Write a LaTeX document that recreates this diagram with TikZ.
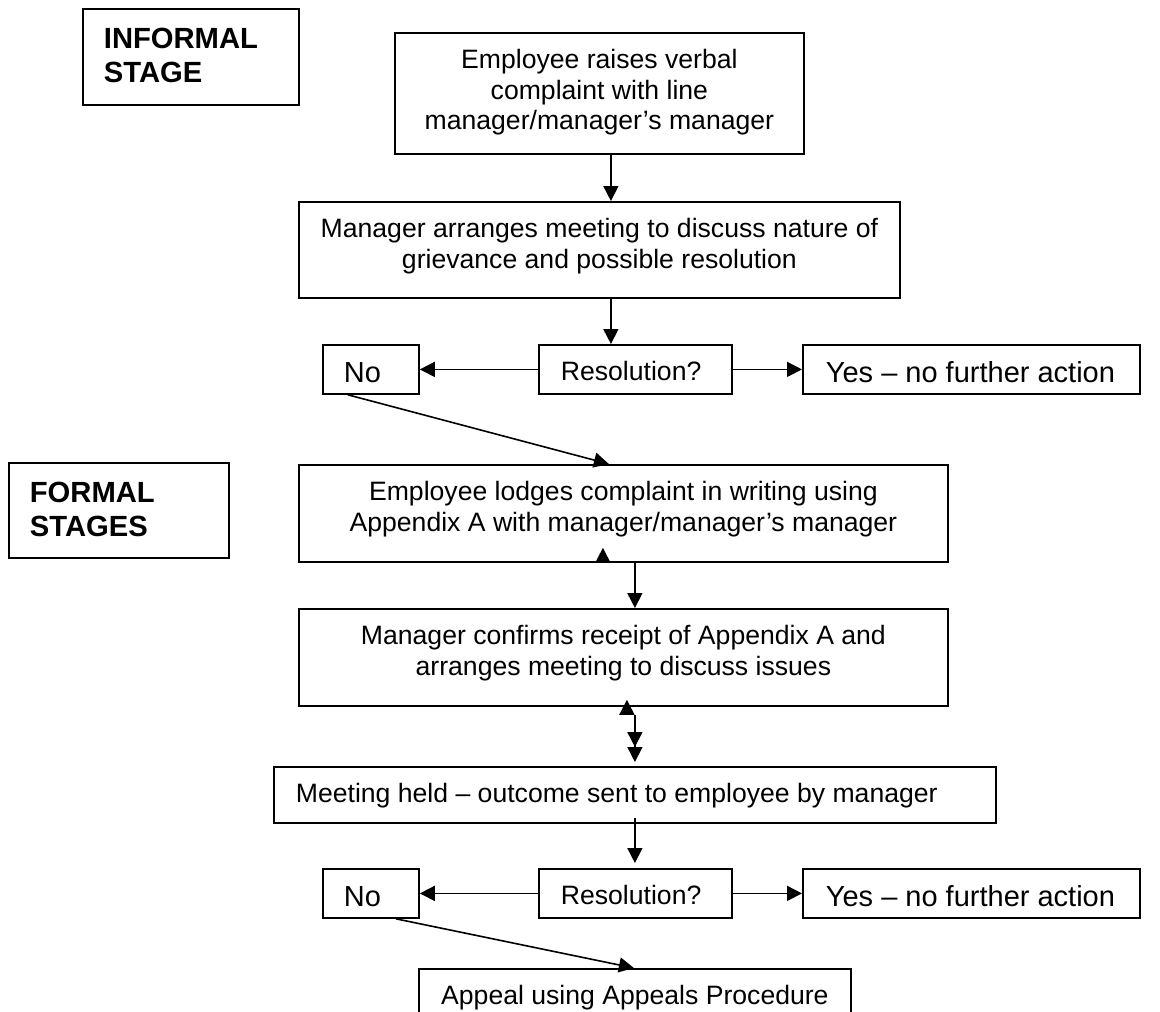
\documentclass[tikz,border=0pt]{standalone}
\usepackage{fontspec}
\setmainfont{Liberation Sans}
\usetikzlibrary{arrows.meta}
\newcommand{\ctext}[3]{\parbox[c][#2][t]{#1}{\centering\rule{0pt}{36pt}#3\par}}
\newcommand{\ltext}[5]{\parbox[c][#2][t]{#1}{\raggedright\rule{0pt}{#4}\hspace*{#3}#5\par}}
\begin{document}
\begin{tikzpicture}[x=1pt,y=-1pt,
  box/.style={draw, line width=1.8pt, inner sep=0pt, anchor=north west},
  body/.style={font=\fontsize{26.6}{30.5}\selectfont},
  big/.style={font=\fontsize{29}{34}\selectfont},
  stagefont/.style={font=\fontsize{29.2}{34}\selectfont\bfseries},
  arr/.style={line width=1.6pt, -{Triangle[length=15pt,width=15pt]}},
  darr/.style={line width=1.6pt, -{Triangle[length=15pt,width=15pt]Triangle[length=15pt,width=15pt]}},
]
\useasboundingbox (0,0) rectangle (1160,1012);
\clip (0,0) rectangle (1160,1012);
\fill[white] (0,0) rectangle (1160,1012);

% stage labels
\node[box, stagefont] (inf) at (82,8) {\ltext{216pt}{96pt}{21pt}{40pt}{INFORMAL\\\hspace*{21pt}STAGE}};
\node[box, stagefont] (form) at (8,462) {\ltext{220pt}{95pt}{21pt}{40pt}{FORMAL\\\hspace*{21pt}STAGES}};

% informal stage
\node[box, body] (b1) at (394,32) {\ctext{409pt}{121pt}{Employee raises verbal\\complaint with line\\manager/manager’s manager}};
\node[box, body] (b2) at (298,201) {\ctext{601pt}{96pt}{Manager arranges meeting to discuss nature of\\grievance and possible resolution}};
\node[box, big] (no1) at (322,344) {\ltext{96pt}{49pt}{21pt}{38pt}{No}};
\node[box, body] (res1) at (538,344) {\ltext{193pt}{49pt}{22pt}{36pt}{Resolution?}};
\node[box, big] (yes1) at (802,344) {\ltext{337pt}{49pt}{23pt}{38pt}{Yes -- no further action}};

% formal stages
\node[box, body] (b3) at (298,464) {\ctext{649pt}{97pt}{Employee lodges complaint in writing using\\Appendix A with manager/manager’s manager}};
\node[box, body] (b4) at (298,608) {\ctext{649pt}{97pt}{Manager confirms receipt of Appendix A and\\arranges meeting to discuss issues}};
\node[box, body] (b5) at (273,766) {\ltext{722pt}{56pt}{22pt}{36pt}{Meeting held -- outcome sent to employee by manager}};
\node[box, big] (no2) at (322,868) {\ltext{96pt}{49pt}{21pt}{38pt}{No}};
\node[box, body] (res2) at (538,868) {\ltext{193pt}{49pt}{22pt}{36pt}{Resolution?}};
\node[box, big] (yes2) at (802,868) {\ltext{337pt}{49pt}{23pt}{38pt}{Yes -- no further action}};
\node[box, body] (app) at (418,968) {\ctext{432pt}{60pt}{Appeal using Appeals Procedure}};

% connectors
\draw[arr] ([xshift=11.5pt]b1.south) -- ([xshift=11.5pt]b2.north);
\draw[arr] ([xshift=11.5pt]b2.south) -- ([xshift=-24.5pt]res1.north);
\draw[arr] (res1.west) -- (no1.east);
\draw[arr] (res1.east) -- (yes1.west);
\draw[arr] ([xshift=-23pt]no1.south) -- ([xshift=-14.5pt]b3.north);

\draw[arr] ([xshift=-20.5pt]b3.south) -- ([xshift=-20.5pt,yshift=15pt]b3.south);
\draw[arr] ([xshift=11.5pt]b3.south) -- ([xshift=11.5pt]b4.north);
\draw[arr] ([xshift=3.5pt,yshift=-8pt]b4.south) -- ([xshift=3.5pt,yshift=7pt]b4.south);
\draw[darr] ([xshift=11.5pt,yshift=-8pt]b4.south) -- ([yshift=4pt]b5.north);
\draw[arr] ([yshift=6pt]b5.south) -- ([xshift=-0.5pt,yshift=5pt]res2.north);
\draw[arr] (res2.west) -- (no2.east);
\draw[arr] (res2.east) -- (yes2.west);
\draw[arr] ([xshift=25pt]no2.south) -- ([xshift=-1pt]app.north);
\end{tikzpicture}
\end{document}
